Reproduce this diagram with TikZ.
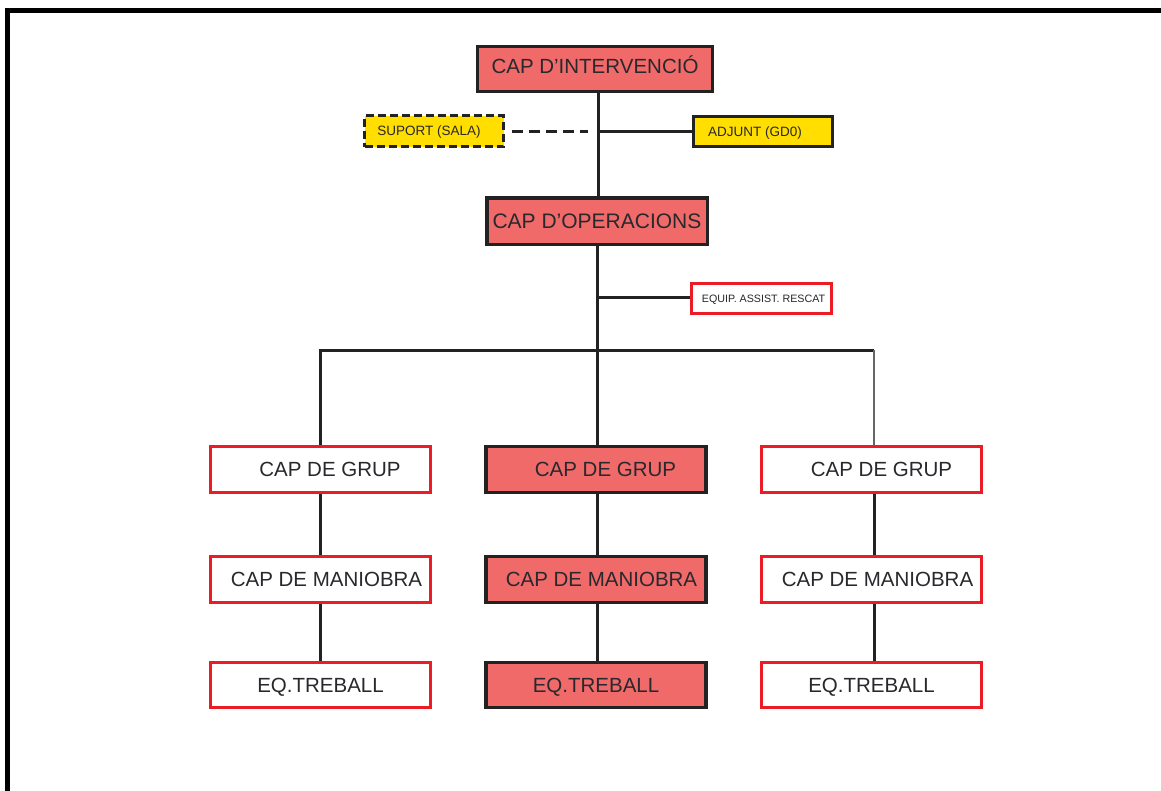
\documentclass[tikz,border=0pt]{standalone}
\usepackage{fontspec}
\setmainfont{Liberation Sans}
\definecolor{salmon}{RGB}{240,106,106}
\definecolor{yel}{RGB}{255,222,0}
\definecolor{rd}{RGB}{236,28,36}
\definecolor{dk}{RGB}{34,34,34}
\definecolor{txt}{RGB}{40,40,45}
\tikzset{
  box/.style={rectangle, draw, inner sep=0pt, text=txt,
    font=\fontsize{20.5}{24}\selectfont, text height=14.7pt, text depth=0pt},
  redbox/.style={box, fill=salmon, draw=dk, line width=3.5pt},
  whitebox/.style={box, fill=white, draw=rd, line width=3pt},
  ybox/.style={box, fill=yel, draw=dk, line width=3pt,
    font=\fontsize{13.5}{16}\selectfont, text height=9.7pt},
  conn/.style={draw=dk, line width=3pt},
  thinconn/.style={draw=black!60, line width=2pt},
  rowbox/.style={minimum width=220pt, minimum height=46pt},
}
\begin{document}
\begin{tikzpicture}[x=1pt,y=-1pt]
\useasboundingbox (0,0) rectangle (1161,790);
% frame
\draw[line width=5pt, black] (7.5,792) -- (7.5,10.5) -- (1163,10.5);

% top nodes
\node[redbox, minimum width=235pt, minimum height=45pt] (ci) at (595,69) {\raisebox{3pt}{CAP D’INTERVENCIÓ}};
\node[ybox, dash pattern=on 8pt off 4pt, minimum width=139pt, minimum height=31pt] (sup) at (434,131) {SUPORT (SALA)\hspace*{10pt}};
\node[ybox, minimum width=139pt, minimum height=30pt] (adj) at (763,131.5) {ADJUNT (GD0)\hspace*{16pt}};
\node[redbox, font=\fontsize{21}{25}\selectfont, text height=15pt, minimum width=220.5pt, minimum height=46.5pt] (co) at (597,221) {CAP D’OPERACIONS};
\node[whitebox, font=\fontsize{10.7}{13}\selectfont, text height=7.7pt, minimum width=140pt, minimum height=30pt] (eq) at (761.5,298.5) {\hspace*{4pt}EQUIP. ASSIST. RESCAT};

% rows
\node[whitebox, rowbox] (g1) at (320.5,469.5) {\hspace*{19pt}CAP DE GRUP};
\node[redbox, rowbox] (g2) at (596,469.5) {\hspace*{19pt}CAP DE GRUP};
\node[whitebox, rowbox] (g3) at (871.5,469.5) {\hspace*{20pt}CAP DE GRUP};
\node[whitebox, rowbox] (m1) at (320.5,579.5) {\hspace*{12pt}CAP DE MANIOBRA};
\node[redbox, rowbox] (m2) at (596,579.5) {\hspace*{11pt}CAP DE MANIOBRA};
\node[whitebox, rowbox] (m3) at (871.5,579.5) {\hspace*{12pt}CAP DE MANIOBRA};
\node[whitebox, rowbox, minimum height=45pt] (t1) at (320.5,685) {EQ.TREBALL};
\node[redbox, rowbox, minimum height=45pt] (t2) at (596,685) {EQ.TREBALL};
\node[whitebox, rowbox, minimum height=45pt] (t3) at (871.5,685) {EQ.TREBALL};

% junction coordinates
\coordinate (j1) at (598,131);
\coordinate (j2) at (598,297);
\coordinate (dA) at (512,131);
\coordinate (dB) at (588,131);
\coordinate (bl) at (320,350);
\coordinate (bc) at (597.5,350);
\coordinate (br) at (874,350);

% connectors
\draw[conn] (ci.south -| j1) -- (co.north -| j1);
\draw[conn] (j1) -- (adj.west |- j1);
\draw[conn, dash pattern=on 11pt off 6pt] (dA) -- (dB);
\draw[conn] (co.south -| bc) -- (g2.north -| bc);
\draw[conn] (j2) -- (eq.west |- j2);
\draw[conn] (g1.north -| bl) -- (bl) -- (br);
\draw[thinconn] (br) -- (g3.north -| br);

\draw[conn] (g1.south -| bl) -- (m1.north -| bl);
\draw[conn] (m1.south -| bl) -- (t1.north -| bl);
\draw[conn] (g2.south -| bc) -- (m2.north -| bc);
\draw[conn] (m2.south -| bc) -- (t2.north -| bc);
\draw[conn] (g3.south -| br) -- (m3.north -| br);
\draw[conn] (m3.south -| br) -- (t3.north -| br);
\end{tikzpicture}
\end{document}
